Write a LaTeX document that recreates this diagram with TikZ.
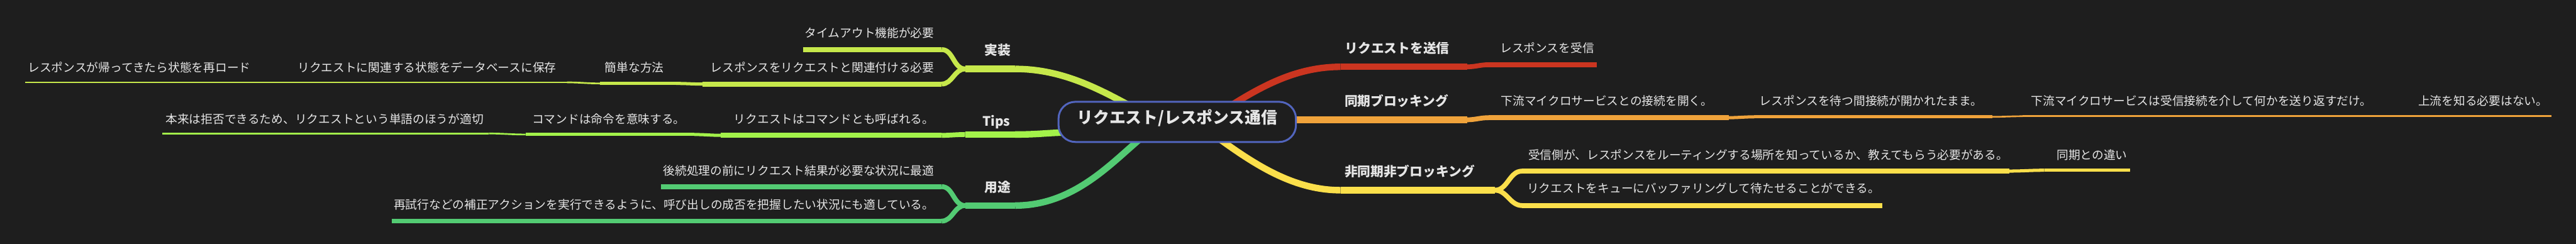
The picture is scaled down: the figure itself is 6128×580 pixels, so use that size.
\documentclass[tikz,border=0pt]{standalone}
\usepackage{fontspec}
\setmainfont{Noto Sans CJK JP}
\definecolor{bgc}{HTML}{1E1E1E}
\definecolor{txt}{HTML}{E6E6E6}
\definecolor{croot}{HTML}{5265BE}
\definecolor{cred}{HTML}{CB3520}
\definecolor{corange}{HTML}{F0A33B}
\definecolor{cyellow}{HTML}{FBDF4B}
\definecolor{cimpl}{HTML}{C6E84B}
\definecolor{ctips}{HTML}{A3F24A}
\definecolor{cuse}{HTML}{53CB73}
\begin{document}
\begin{tikzpicture}[x=0.01cm, y=-0.01cm,
	every node/.style={inner sep=0pt, text=txt},
	rootlabel/.style={font=\fontsize{10.95pt}{13pt}\selectfont\bfseries},
	mainlabel/.style={font=\fontsize{8.82pt}{10pt}\selectfont\bfseries},
	sublabel/.style={font=\fontsize{7.97pt}{9pt}\selectfont},
	wone/.style={line width=0.155cm},
	wtwo/.style={line width=0.115cm},
	wthree/.style={line width=0.075cm},
	wfour/.style={line width=0.04cm}]
	
	% Background
	\fill[bgc] (0,0) rectangle (6128,580);
	\useasboundingbox (0,0) rectangle (6128,580);
	
	% Right: request sent
	\draw[cred, wone] (3189,159) coordinate (send-l) -- (3490,159) coordinate (send-r);
	\draw[cred, wtwo] (3541,154) coordinate (recv-l) -- (3799,154) coordinate (recv-r);
	\draw[cred, wtwo] (send-r) to[out=0, in=180] (recv-l);
	\node[mainlabel, anchor=base west] (send) at (3199,126) {リクエストを送信};
	\node[sublabel, anchor=base west] (recv) at (3568,125) {レスポンスを受信};
	
	% Right: sync blocking
	\draw[corange, wone] (3189,285) coordinate (sync-l) -- (3490,285) coordinate (sync-r);
	\draw[corange, wtwo] (3541,280) coordinate (open-l) -- (4112,280) coordinate (open-r);
	\draw[corange, wthree] (4173,278) coordinate (wait-l) -- (4739,278) coordinate (wait-r);
	\draw[corange, wfour] (4812,276.5) coordinate (reply-l) -- (5642,276.5) coordinate (reply-r);
	\draw[corange, wfour] (5743,276.5) coordinate (noup-l) -- (6070,276.5) coordinate (noup-r);
	\draw[corange, wtwo] (sync-r) to[out=0, in=180] (open-l);
	\draw[corange, wthree] (open-r) to[out=0, in=180] (wait-l);
	\draw[corange, wfour] (wait-r) to[out=0, in=180] (reply-l);
	\draw[corange, wfour] (reply-r) -- (noup-l);
	\node[mainlabel, anchor=base west] (sync) at (3198,252) {同期ブロッキング};
	\node[sublabel, anchor=base west] (open) at (3570,251) {下流マイクロサービスとの接続を開く。};
	\node[sublabel, anchor=base west] (wait) at (4185,251) {レスポンスを待つ間接続が開かれたまま。};
	\node[sublabel, anchor=base west] (reply) at (4831,251) {下流マイクロサービスは受信接続を介して何かを送り返すだけ。};
	\node[sublabel, anchor=base west] (noup) at (5752,251) {上流を知る必要はない。};
	
	% Right: async non-blocking
	\draw[cyellow, wone] (3189,452.5) coordinate (async-l) -- (3556,452.5) coordinate (async-r);
	\draw[cyellow, wtwo] (3621,407) coordinate (route-l) -- (4780,407) coordinate (route-r);
	\draw[cyellow, wthree] (4863,405) coordinate (diff-l) -- (5067,405) coordinate (diff-r);
	\draw[cyellow, wtwo] (3621,489) coordinate (queue-l) -- (4477,489) coordinate (queue-r);
	\draw[cyellow, wtwo] (async-r) to[out=0, in=180] (route-l);
	\draw[cyellow, wtwo] (async-r) to[out=0, in=180] (queue-l);
	\draw[cyellow, wthree] (route-r) to[out=0, in=180] (diff-l);
	\node[mainlabel, anchor=base west] (async) at (3198,420) {非同期非ブロッキング};
	\node[sublabel, anchor=base west] (route) at (3635,379) {受信側が、レスポンスをルーティングする場所を知っているか、教えてもらう必要がある。};
	\node[sublabel, anchor=base west] (diff) at (4892,379) {同期との違い};
	\node[sublabel, anchor=base west] (queue) at (3632,459) {リクエストをキューにバッファリングして待たせることができる。};
	
	% Left: implementation
	\draw[cimpl, wone] (2296,164) coordinate (impl-l) -- (2415,164) coordinate (impl-r);
	\draw[cimpl, wtwo] (1910,118) coordinate (timeout-l) -- (2240,118) coordinate (timeout-r);
	\draw[cimpl, wtwo] (1671,200) coordinate (assoc-l) -- (2240,200) coordinate (assoc-r);
	\draw[cimpl, wthree] (1427,198.5) coordinate (easy-l) -- (1608,198.5) coordinate (easy-r);
	\draw[cimpl, wfour] (704,196) coordinate (savedb-l) -- (1349,196) coordinate (savedb-r);
	\draw[cimpl, wfour] (60,196) coordinate (reload-l) -- (605,196) coordinate (reload-r);
	\draw[cimpl, wtwo] (impl-l) to[out=180, in=0] (timeout-r);
	\draw[cimpl, wtwo] (impl-l) to[out=180, in=0] (assoc-r);
	\draw[cimpl, wthree] (assoc-l) to[out=180, in=0] (easy-r);
	\draw[cimpl, wfour] (easy-l) to[out=180, in=0] (savedb-r);
	\draw[cimpl, wfour] (savedb-l) -- (reload-r);
	\node[mainlabel, anchor=base east] (impl) at (2405,131) {実装};
	\node[sublabel, anchor=base east] (timeout) at (2223,89) {タイムアウト機能が必要};
	\node[sublabel, anchor=base east] (assoc) at (2223,172) {レスポンスをリクエストと関連付ける必要};
	\node[sublabel, anchor=base east] (easy) at (1580,172) {簡単な方法};
	\node[sublabel, anchor=base east] (savedb) at (1324,171) {リクエストに関連する状態をデータベースに保存};
	\node[sublabel, anchor=base east] (reload) at (597,171) {レスポンスが帰ってきたら状態を再ロード};
	
	% Left: tips
	\draw[ctips, wone] (2296,320) coordinate (tips-l) -- (2415,320) coordinate (tips-r);
	\draw[ctips, wtwo] (1715,322) coordinate (cmd-l) -- (2240,322) coordinate (cmd-r);
	\draw[ctips, wthree] (1250,320) coordinate (order-l) -- (1652,320) coordinate (order-r);
	\draw[ctips, wfour] (386,317.6) coordinate (word-l) -- (1163,317.6) coordinate (word-r);
	\draw[ctips, wtwo] (tips-l) to[out=180, in=0] (cmd-r);
	\draw[ctips, wthree] (cmd-l) to[out=180, in=0] (order-r);
	\draw[ctips, wfour] (order-l) to[out=180, in=0] (word-r);
	\node[mainlabel, anchor=base east] (tips) at (2404,300) {Tips};
	\node[sublabel, anchor=base east] (cmd) at (2223,294) {リクエストはコマンドとも呼ばれる。};
	\node[sublabel, anchor=base east] (order) at (1631,294) {コマンドは命令を意味する。};
	\node[sublabel, anchor=base east] (word) at (1151,294) {本来は拒否できるため、リクエストという単語のほうが適切};
	
	% Left: use cases
	\draw[cuse, wone] (2296,489) coordinate (use-l) -- (2415,489) coordinate (use-r);
	\draw[cuse, wtwo] (1572,444) coordinate (best-l) -- (2240,444) coordinate (best-r);
	\draw[cuse, wtwo] (932,526) coordinate (retry-l) -- (2240,526) coordinate (retry-r);
	\draw[cuse, wtwo] (use-l) to[out=180, in=0] (best-r);
	\draw[cuse, wtwo] (use-l) to[out=180, in=0] (retry-r);
	\node[mainlabel, anchor=base east] (use) at (2405,457) {用途};
	\node[sublabel, anchor=base east] (best) at (2223,416) {後続処理の前にリクエスト結果が必要な状況に最適};
	\node[sublabel, anchor=base east] (retry) at (2223,498) {再試行などの補正アクションを実行できるように、呼び出しの成否を把握したい状況にも適している。};
	
	% Links out of the root
	\coordinate (o-send) at (2930,250);
	\coordinate (o-sync) at (3040,285);
	\coordinate (o-async) at (2900,330);
	\coordinate (o-impl) at (2700,258);
	\coordinate (o-tips) at (2560,315);
	\coordinate (o-use) at (2725,320);
	\draw[cred, wone] (o-send) .. controls (3010,200) and (3090,159) .. (send-l);
	\draw[corange, wone] (o-sync) -- (sync-l);
	\draw[cyellow, wone] (o-async) .. controls (2990,395) and (3080,452.5) .. (async-l);
	\draw[cimpl, wone] (o-impl) .. controls (2620,215) and (2530,164) .. (impl-r);
	\draw[ctips, wone] (o-tips) .. controls (2490,315) and (2480,320) .. (tips-r);
	\draw[cuse, wone] (o-use) .. controls (2650,380) and (2560,489) .. (use-r);
	
	% Root
	\node[rootlabel, draw=croot, line width=0.045cm, fill=bgc, rounded corners=0.4cm,
		minimum width=5.645cm, minimum height=0.955cm, text height=0.88em, text depth=0.64em]
		(root) at (2800.5,290) {リクエスト/レスポンス通信};
\end{tikzpicture}
\end{document}
